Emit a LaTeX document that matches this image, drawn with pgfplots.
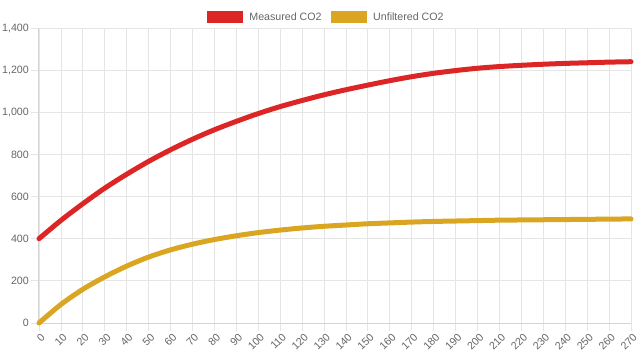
\documentclass[border=0pt]{standalone}
\usepackage{pgfplots}
\pgfplotsset{compat=1.18}
\usepackage{fontspec}
\setmainfont{Liberation Sans}
\definecolor{cred}{RGB}{220,38,38}
\definecolor{cyel}{RGB}{218,165,32}
\definecolor{gridc}{RGB}{229,229,229}
\definecolor{axisc}{RGB}{212,212,212}
\definecolor{txt}{RGB}{102,102,102}
\pgfplotstableread{
x y
0 400
10 487
20 566
30 640
40 706
50 767
60 822
70 872
80 917
90 957
100 994
110 1027
120 1056
130 1083
140 1107
150 1129
160 1150
170 1169
180 1185
190 1198
200 1209
210 1217
220 1223
230 1228
240 1232
250 1235
260 1238
270 1240
}\measured
\pgfplotstableread{
x y
0 0
10 88
20 160
30 219
40 270
50 313
60 347
70 374
80 396
90 414
100 429
110 441
120 451
130 459
140 465
150 471
160 475
170 479
180 482
190 484
200 486
210 488
220 489
230 490
240 491
250 492
260 493
270 494
}\unfiltered
\begin{document}
\begin{tikzpicture}[x=1bp,y=1bp]
\path[use as bounding box] (-39,-35) rectangle (605,323);
\begin{axis}[
  at={(0,0)}, anchor=south west,
  scale only axis, width=592bp, height=295bp,
  xmin=0, xmax=270, ymin=0, ymax=1400,
  xtick={0,10,...,270}, ytick={0,200,...,1400},
  grid=major, grid style={color=gridc, line width=0.8bp},
  axis lines=left, axis line style={-, color=axisc, line width=1bp},
  tick align=outside, major tick length=8bp,
  tick style={color=gridc, line width=0.8bp},
  every tick label/.append style={font=\fontsize{10.7}{12}\selectfont, text=txt},
  /pgf/number format/.cd, 1000 sep={,}, assume math mode=true, /pgfplots/.cd,
  xticklabel style={rotate=45, anchor=north east, inner sep=0pt, yshift=-2bp},
  yticklabel style={anchor=east, inner sep=0pt, xshift=-2bp},
  clip=false,
  legend columns=2,
  legend style={at={(0.484,1.0356)}, anchor=center, draw=none, fill=none,
    font=\fontsize{10.7}{12}\selectfont, text=txt, inner sep=0pt,
    column sep=0pt, row sep=0pt, nodes={inner sep=0pt}},
  legend cell align=left,
  legend image code/.code={\fill[#1, draw=none] (0bp,-6bp) rectangle (36bp,6bp);},
]
\addplot[color=cred, line width=5bp, line cap=round, line join=round, smooth] table[x=x,y=y] {\measured};
\addlegendentry{\rule{6bp}{0pt}Measured CO2\rule{9.5bp}{0pt}}
\addplot[color=cyel, line width=5bp, line cap=round, line join=round, smooth] table[x=x,y=y] {\unfiltered};
\addlegendentry{\rule{6bp}{0pt}Unfiltered CO2}
\end{axis}
\end{tikzpicture}
\end{document}
